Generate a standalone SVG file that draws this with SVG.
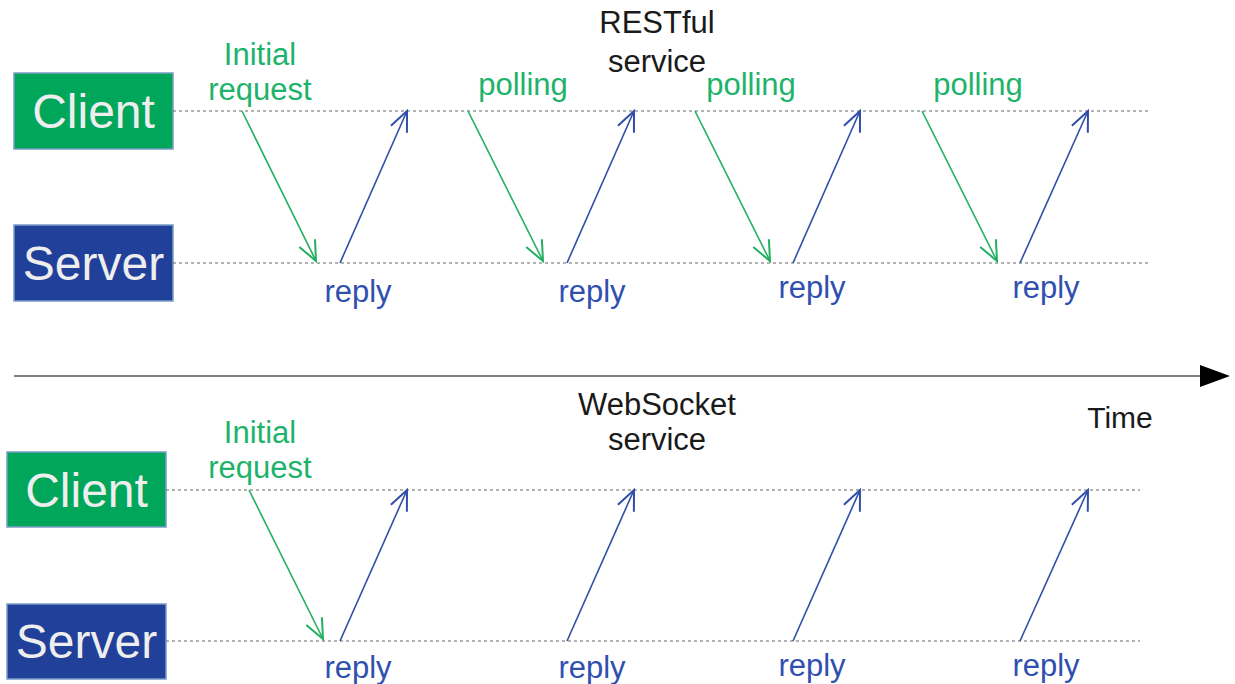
<svg xmlns="http://www.w3.org/2000/svg" width="1235" height="684" viewBox="0 0 1235 684">
<style>
text{font-family:"Liberation Sans",Arial,sans-serif}
.box-c{fill:#00a65a;stroke:#7a9cc8;stroke-width:1.5}
.box-s{fill:#21409a;stroke:#7a9cc8;stroke-width:1.5}
.lbl{fill:#eeeeee;font-size:48px;text-anchor:middle}
.g{fill:#1db36b;font-size:31px;text-anchor:middle}
.b{fill:#3050b0;font-size:31px;text-anchor:middle}
.k{fill:#1a1a1a;font-size:31px;text-anchor:middle}
.dot{stroke:#666;stroke-width:1.2;stroke-dasharray:3,3;fill:none}
.req{stroke:#22b060;stroke-width:1.6;fill:none;marker-end:url(#ag)}
.rep{stroke:#2f4ea8;stroke-width:1.6;fill:none;marker-end:url(#ab)}
</style>
<defs>
<marker id="ag" markerUnits="userSpaceOnUse" markerWidth="30" markerHeight="30" refX="0" refY="0" viewBox="-20 -10 24 20" orient="auto"><path d="M-16,-7 L0,0 L-16,7" fill="none" stroke="#22b060" stroke-width="1.6"/></marker>
<marker id="ab" markerUnits="userSpaceOnUse" markerWidth="30" markerHeight="30" refX="0" refY="0" viewBox="-20 -10 24 20" orient="auto"><path d="M-16,-7 L0,0 L-16,7" fill="none" stroke="#2f4ea8" stroke-width="1.6"/></marker>
</defs>

<g id="top-client"><rect class="box-c" x="14" y="73" width="159" height="76"/><text class="lbl" x="93.5" y="128">Client</text></g>
<g id="top-server"><rect class="box-s" x="14" y="225" width="159" height="76"/><text class="lbl" x="93.5" y="280">Server</text></g>
<g id="bottom-client"><rect class="box-c" x="7" y="452" width="159" height="75"/><text class="lbl" x="86.5" y="507">Client</text></g>
<g id="bottom-server"><rect class="box-s" x="7" y="604" width="159" height="75"/><text class="lbl" x="86.5" y="658">Server</text></g>

<g id="titles">
<text class="k" x="657" y="33">RESTful</text>
<text class="k" x="657" y="72">service</text>
<text class="k" x="657" y="415">WebSocket</text>
<text class="k" x="657" y="450">service</text>
<text class="k" x="1120" y="428" style="font-size:30px">Time</text>
</g>

<g id="connectors">
<line class="dot" x1="173" y1="111" x2="1150" y2="111"/>
<line class="dot" x1="173" y1="263" x2="1150" y2="263"/>
<line class="dot" x1="166" y1="490" x2="1140" y2="490"/>
<line class="dot" x1="166" y1="641" x2="1140" y2="641"/>
<line x1="14" y1="376" x2="1202" y2="376" stroke="#555" stroke-width="1.5"/>
<polygon points="1200,365 1230,376 1200,387" fill="#000"/>

<line class="req" x1="242" y1="111" x2="316" y2="261"/>
<line class="rep" x1="340" y1="263" x2="407" y2="111"/>
<line class="req" x1="468" y1="111" x2="543" y2="261"/>
<line class="rep" x1="567" y1="263" x2="634" y2="111"/>
<line class="req" x1="695" y1="111" x2="770" y2="261"/>
<line class="rep" x1="793" y1="263" x2="860" y2="111"/>
<line class="req" x1="922" y1="111" x2="997" y2="261"/>
<line class="rep" x1="1020" y1="263" x2="1088" y2="111"/>

<line class="req" x1="249" y1="490" x2="323" y2="639"/>
<line class="rep" x1="340" y1="641" x2="407" y2="490"/>
<line class="rep" x1="567" y1="641" x2="634" y2="490"/>
<line class="rep" x1="793" y1="641" x2="860" y2="490"/>
<line class="rep" x1="1020" y1="641" x2="1088" y2="490"/>
</g>

<g id="labels">
<text class="g" x="260" y="65">Initial</text>
<text class="g" x="260" y="100">request</text>
<text class="g" x="523" y="95">polling</text>
<text class="g" x="751" y="95">polling</text>
<text class="g" x="978" y="95">polling</text>
<text class="b" x="358" y="302">reply</text>
<text class="b" x="592" y="302">reply</text>
<text class="b" x="812" y="298">reply</text>
<text class="b" x="1046" y="298">reply</text>

<text class="g" x="260" y="443">Initial</text>
<text class="g" x="260" y="478">request</text>
<text class="b" x="358" y="678">reply</text>
<text class="b" x="592" y="678">reply</text>
<text class="b" x="812" y="676">reply</text>
<text class="b" x="1046" y="676">reply</text>
</g>
</svg>
